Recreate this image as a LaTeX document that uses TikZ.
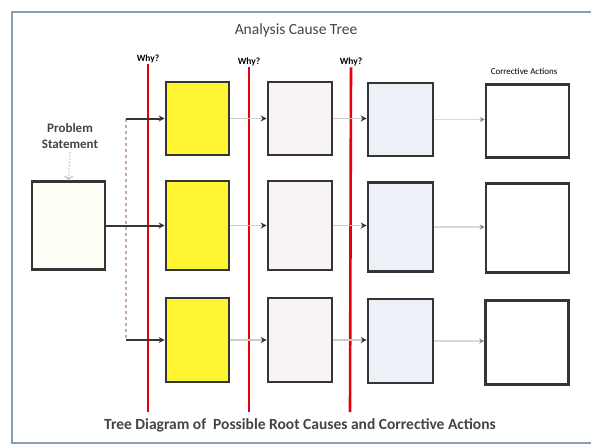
\documentclass[tikz,border=0pt]{standalone}
\usepackage{fontspec}
\setmainfont{Carlito}
\usetikzlibrary{arrows.meta}
\definecolor{FrameBlue}{HTML}{8C9DB8}
\definecolor{WhyRed}{HTML}{E6000A}
\definecolor{CauseYellow}{HTML}{FFF533}
\definecolor{PaleRose}{HTML}{F7F3F5}
\definecolor{PaleBlue}{HTML}{EDF1F7}
\definecolor{BoxGrey}{HTML}{353535}
\definecolor{TextGrey}{HTML}{444444}

\begin{document}
\begin{tikzpicture}[x=1pt, y=-1pt,
    box/.style={draw=BoxGrey, line width=2.6pt, inner sep=0pt},
    col1/.style={box, fill=CauseYellow, minimum width=63pt},
    col2/.style={box, fill=PaleRose, minimum width=64pt},
    col3/.style={box, fill=PaleBlue, minimum width=65pt},
    col4/.style={box, fill=white, minimum width=83pt},
    row1/.style={minimum height=73pt},
    row2/.style={minimum height=89pt},
    row3/.style={minimum height=84pt},
    why/.style={font=\bfseries\fontsize{9.5}{10}\selectfont, inner sep=1pt},
    whyline/.style={draw=WhyRed, line width=2.6pt},
    feed/.style={draw=BoxGrey, line width=2pt, -{Stealth[length=6pt, width=6pt]}},
    link/.style={draw=gray!40, line width=1.8pt, -{Stealth[length=6pt, width=6pt, color=BoxGrey]}},
    lastlink/.style={draw=gray!30, line width=1.6pt, -{Stealth[length=5pt, width=5pt, color=gray]}}]
    \useasboundingbox (0,0) rectangle (591,447);

    % Frame and headings
    \draw[FrameBlue, line width=2.4pt] (12,12) rectangle (600,443);
    \node[text=TextGrey, font=\fontsize{15.5}{18}\selectfont] (title) at (296,30) {Analysis Cause Tree};
    \node[text=TextGrey, font=\bfseries\fontsize{15.5}{18}\selectfont] (caption) at (300,425) {Tree Diagram of\ \ Possible Root Causes and Corrective Actions};
    \node[font=\fontsize{9}{10}\selectfont] (actions) at (524,71) {Corrective Actions};

    % Why? lines
    \node[why] (why1) at (148,59) {Why?};
    \node[why] (why2) at (249,62) {Why?};
    \node[why] (why3) at (351,62) {Why?};
    \coordinate (base1) at (148,412);
    \coordinate (base2) at (249,412);
    \coordinate (base3) at (350,412);
    \draw[whyline] (why1.south) -- (base1);
    \draw[whyline] (why2.south) -- (base2);
    \draw[whyline] (why3.south) -- (base3);

    % Problem statement
    \node[box, fill=yellow!3, minimum width=73pt, minimum height=88pt] (ps) at (68.5,225.5) {};
    \node[align=center, text=TextGrey, font=\bfseries\fontsize{13}{16}\selectfont] (pslabel) at (70,136) {Problem\\Statement};
    \draw[gray!50, dotted, line width=1.2pt, ->] (pslabel.south) -- (ps.north);

    % Causes and actions
    \node[col1, row1] (c1r1) at (197.5,118.5) {};
    \node[col1, row2] (c1r2) at (197.5,225.5) {};
    \node[col1, row3] (c1r3) at (197.5,340) {};
    \node[col2, row1] (c2r1) at (300,118.5) {};
    \node[col2, row2] (c2r2) at (300,225.5) {};
    \node[col2, row3] (c2r3) at (300,340) {};
    \node[col3, row1] (c3r1) at (400.5,119.5) {};
    \node[col3, row2] (c3r2) at (400.5,227) {};
    \node[col3, row3] (c3r3) at (400.5,341) {};
    \node[col4, row1] (c4r1) at (527.5,121) {};
    \node[col4, row2] (c4r2) at (527.5,228) {};
    \node[col4, row3] (c4r3) at (527,342.5) {};

    % Branching from the problem
    \coordinate (fork) at (126,225.5);
    \coordinate (forktop) at (126,118.5);
    \coordinate (forkbot) at (126,340);
    \draw[BoxGrey, line width=2pt] (ps.east) -- (fork);
    \draw[pink!60!gray, dashed, line width=1.5pt] (forktop) -- (forkbot);
    \draw[feed] (forktop) -- (c1r1.west);
    \draw[feed] (fork) -- (c1r2.west);
    \draw[feed] (forkbot) -- (c1r3.west);

    % Arrows between columns
    \draw[link] (c1r1) -- (c2r1);
    \draw[link] (c1r2) -- (c2r2);
    \draw[link] (c1r3) -- (c2r3);
    \draw[link] (c2r1.east) -- (c3r1.west |- c2r1.east);
    \draw[link] (c2r2.east) -- (c3r2.west |- c2r2.east);
    \draw[link] (c2r3.east) -- (c3r3.west |- c2r3.east);
    \draw[lastlink] (c3r1.east) -- (c4r1.west |- c3r1.east);
    \draw[lastlink] (c3r2.east) -- (c4r2.west |- c3r2.east);
    \draw[lastlink] (c3r3.east) -- (c4r3.west |- c3r3.east);
\end{tikzpicture}
\end{document}
